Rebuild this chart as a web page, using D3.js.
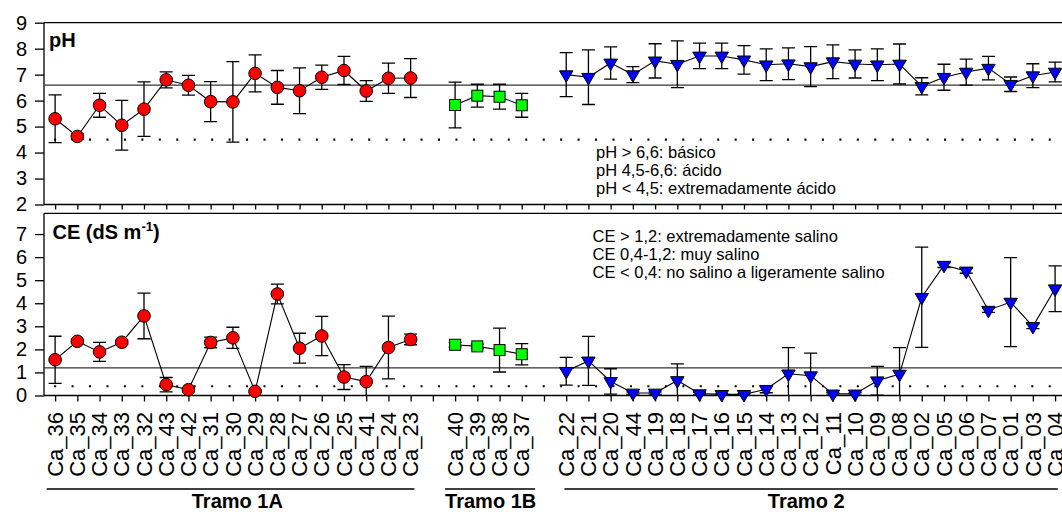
<!DOCTYPE html>
<html>
<head>
<meta charset="utf-8">
<script src="https://cdn.jsdelivr.net/npm/d3@7"></script>
<style>
  html, body { margin: 0; padding: 0; background: #fff; }
  svg { display: block; }
  text { font-family: "Liberation Sans", Arial, sans-serif; fill: #000; }
</style>
</head>
<body>
<svg id="chart" width="1062" height="512"></svg>
<script>
// ---------------- DATA ----------------
const tramo1A = ["Ca_36","Ca_35","Ca_34","Ca_33","Ca_32","Ca_43","Ca_42","Ca_31","Ca_30","Ca_29","Ca_28","Ca_27","Ca_26","Ca_25","Ca_41","Ca_24","Ca_23"];
const tramo1B = ["Ca_40","Ca_39","Ca_38","Ca_37"];
const tramo2  = ["Ca_22","Ca_21","Ca_20","Ca_44","Ca_19","Ca_18","Ca_17","Ca_16","Ca_15","Ca_14","Ca_13","Ca_12","Ca_11","Ca_10","Ca_09","Ca_08","Ca_02","Ca_05","Ca_06","Ca_07","Ca_01","Ca_03","Ca_04"];
const groupNames = ["Tramo 1A","Tramo 1B","Tramo 2"];

const pH1A    = [5.30,4.62,5.82,5.05,5.67,6.80,6.59,5.96,5.95,7.05,6.51,6.38,6.90,7.16,6.37,6.86,6.87];
const pH1AErr = [0.92,0.10,0.46,0.96,1.05,0.31,0.38,0.77,1.55,0.71,0.65,0.88,0.47,0.54,0.40,0.58,0.75];
const pH1B    = [5.83,6.19,6.15,5.82];
const pH1BErr = [0.88,0.44,0.48,0.46];
const pH2     = [7.00,6.90,7.45,7.00,7.53,7.40,7.72,7.72,7.57,7.38,7.42,7.31,7.50,7.41,7.38,7.41,6.55,6.90,7.10,7.25,6.63,6.96,7.10];
const pH2Err  = [0.85,1.05,0.62,0.31,0.66,0.90,0.49,0.49,0.55,0.61,0.61,0.77,0.65,0.54,0.61,0.77,0.33,0.50,0.50,0.45,0.28,0.46,0.38];

const CE1A    = [1.55,2.35,1.89,2.31,3.45,0.47,0.25,2.30,2.50,0.18,4.40,2.05,2.58,0.80,0.60,2.08,2.43];
const CE1AErr = [1.02,0.08,0.41,0.08,0.99,0.31,0.08,0.23,0.46,0.05,0.43,0.65,0.85,0.54,0.66,1.36,0.23];
const CE1B    = [2.20,2.13,1.97,1.79];
const CE1BErr = [0.10,0.10,0.95,0.46];
const CE2     = [1.05,1.50,0.61,0.11,0.11,0.65,0.08,0.05,0.05,0.27,0.94,0.86,0.07,0.07,0.64,0.93,4.26,5.65,5.40,3.70,4.05,3.00,4.63];
const CE2Err  = [0.60,1.06,0.55,0.05,0.05,0.72,0.05,0.03,0.03,0.15,1.14,0.98,0.05,0.05,0.62,1.15,2.17,0.10,0.10,0.10,1.93,0.10,0.99];

const pHTicks = [2,3,4,5,6,7,8,9];
const CETicks = [0,1,2,3,4,5,6,7];
const pHRefs = [6.6, 4.5];
const CERefs = [1.2, 0.4];
const pHNotes = ["pH > 6,6: básico","pH 4,5-6,6: ácido","pH < 4,5: extremadamente ácido"];
const CENotes = ["CE > 1,2: extremadamente salino","CE 0,4-1,2: muy salino","CE < 0,4: no salino a ligeramente salino"];

// ---------------- LAYOUT ----------------
const svg = d3.select("#chart");
const groups = [tramo1A, tramo1B, tramo2];
const slots = [...tramo1A, "gap1", ...tramo1B, "gap2", ...tramo2];
const x = d3.scalePoint().domain(slots).range([44, 1066.2]).padding(0.5);
const step = x.step();

const xLeft = 44, xRight = 1070;
const yPH = d3.scaleLinear().domain([2, 9]).range([204.5, 22.7]);
const yCE = d3.scaleLinear().domain([0, 7.9]).range([395.5, 213.3]);

const styles = [
  {shape:"circle", fill:"#ff0000"},
  {shape:"square", fill:"#00ff00"},
  {shape:"triangle", fill:"#0000ff"}
];

function panel(y, ticks, refs, valsArr, errArr, xTickSize) {
  const g = svg.append("g");
  const [y0, y1] = y.range();
  // frame
  g.append("path")
    .attr("d", `M${xLeft},${y1}H${xRight}M${xLeft},${y1}V${y0}`)
    .attr("stroke", "#000").attr("stroke-width", 1.3).attr("fill", "none");
  // y axis
  const ya = g.append("g").attr("transform", `translate(${xLeft},0)`)
    .call(d3.axisLeft(y).tickValues(ticks).tickSize(9).tickPadding(8).tickFormat(d3.format("d")));
  ya.select(".domain").remove();
  ya.selectAll("line").attr("stroke", "#000").attr("stroke-width", 1.3);
  ya.selectAll("text").style("font-size", "20px").style("font-family", "'Liberation Sans', Arial, sans-serif").attr("fill","#000");
  // x axis
  const xa = g.append("g").attr("transform", `translate(0,${y0})`)
    .call(d3.axisBottom(x).tickSize(xTickSize).tickSizeOuter(0).tickFormat(""));
  xa.select(".domain").attr("d", `M${xLeft},0H${xRight}`).attr("stroke", "#000").attr("stroke-width", 1.3);
  xa.selectAll("line").attr("stroke", "#000").attr("stroke-width", 1.3);

  // reference lines
  g.append("line").attr("x1", xLeft).attr("x2", xRight)
    .attr("y1", y(refs[0])).attr("y2", y(refs[0]))
    .attr("stroke", "#333").attr("stroke-width", 1.3);
  g.append("line").attr("x1", x(slots[0]) - 1).attr("x2", x(slots[slots.length-1]) - 4)
    .attr("y1", y(refs[1])).attr("y2", y(refs[1]))
    .attr("stroke", "#000").attr("stroke-width", 2.2).attr("stroke-dasharray", "2,15.45");

  groups.forEach((cats, gi) => {
    const data = cats.map((c, i) => ({c, v: valsArr[gi][i], e: errArr[gi][i]}));
    // error bars
    const eb = g.append("g").attr("stroke", "#000").attr("stroke-width", 1.3).attr("fill", "none");
    eb.selectAll("path").data(data).join("path")
      .attr("d", d => {
        const cx = x(d.c), t = y(d.v + d.e), b = y(Math.max(d.v - d.e, y.domain()[0]));
        const w = 6.5;
        let p = `M${cx},${t}V${b}M${cx-w},${t}H${cx+w}`;
        if (d.v - d.e >= y.domain()[0]) p += `M${cx-w},${b}H${cx+w}`;
        return p;
      });
    // connecting line
    g.append("path").datum(data)
      .attr("d", d3.line().x(d => x(d.c)).y(d => y(d.v)))
      .attr("fill", "none").attr("stroke", "#000").attr("stroke-width", 1.1);
    // markers
    const st = styles[gi];
    const mk = g.append("g").attr("stroke", "#000").attr("stroke-width", 1).attr("fill", st.fill);
    if (st.shape === "circle") {
      mk.selectAll("circle").data(data).join("circle")
        .attr("cx", d => x(d.c)).attr("cy", d => y(d.v)).attr("r", 6.3);
    } else if (st.shape === "square") {
      mk.selectAll("rect").data(data).join("rect")
        .attr("x", d => x(d.c) - 5.5).attr("y", d => y(d.v) - 5.5)
        .attr("width", 11).attr("height", 11);
    } else {
      const w = 6.7, h = 11.5;
      mk.selectAll("path").data(data).join("path")
        .attr("d", d => {
          const cx = x(d.c), cy = y(d.v);
          return `M${cx-w},${cy-h/3}L${cx+w},${cy-h/3}L${cx},${cy+2*h/3}Z`;
        });
    }
  });
  return g;
}

panel(yPH, pHTicks, pHRefs, [pH1A, pH1B, pH2], [pH1AErr, pH1BErr, pH2Err], 5);
panel(yCE, CETicks, CERefs, [CE1A, CE1B, CE2], [CE1AErr, CE1BErr, CE2Err], 6);

// x tick labels on bottom panel
const labels = svg.append("g");
slots.filter(s => !s.startsWith("gap")).forEach(s => {
  labels.append("text")
    .attr("transform", `translate(${x(s)},${yCE.range()[0]}) rotate(-90)`)
    .attr("x", -16.5).attr("y", 0).attr("dy", "0.35em")
    .attr("text-anchor", "end")
    .style("font-size", "22px")
    .text(s);
});

// panel titles
svg.append("text").attr("x", 49).attr("y", 46.5)
  .style("font-size", "20px").style("font-weight", "bold").text("pH");
const ceT = svg.append("text").attr("x", 52.5).attr("y", 239)
  .style("font-size", "20px").style("font-weight", "bold");
ceT.append("tspan").text("CE (dS m");
ceT.append("tspan").attr("dy", -8).style("font-size", "13px").text("-1");
ceT.append("tspan").attr("dy", 8).text(")");

// notes
const noteLH = 18.3;
svg.append("g").selectAll("text").data(pHNotes).join("text")
  .attr("x", 596).attr("y", (d, i) => 157.7 + i * noteLH)
  .style("font-size", "16.5px").text(d => d);
svg.append("g").selectAll("text").data(CENotes).join("text")
  .attr("x", 592.5).attr("y", (d, i) => 241.7 + i * noteLH)
  .style("font-size", "16.5px").text(d => d);

// group lines & labels
const lineExt = [[-0.38, 0.17], [-0.45, 0.6], [-0.08, 0.12]];
const labelOff = [0.2, 0.1, -0.2];
groups.forEach((cats, gi) => {
  const a = x(cats[0]) + lineExt[gi][0] * step;
  const b = x(cats[cats.length - 1]) + lineExt[gi][1] * step;
  svg.append("line").attr("x1", a).attr("x2", b).attr("y1", 489).attr("y2", 489)
    .attr("stroke", "#000").attr("stroke-width", 1.5);
  const cx = (x(cats[0]) + x(cats[cats.length - 1])) / 2 + labelOff[gi] * step;
  svg.append("text").attr("x", cx).attr("y", 508).attr("text-anchor", "middle")
    .style("font-size", "20px").style("font-weight", "bold").text(groupNames[gi]);
});
</script>
</body>
</html>
